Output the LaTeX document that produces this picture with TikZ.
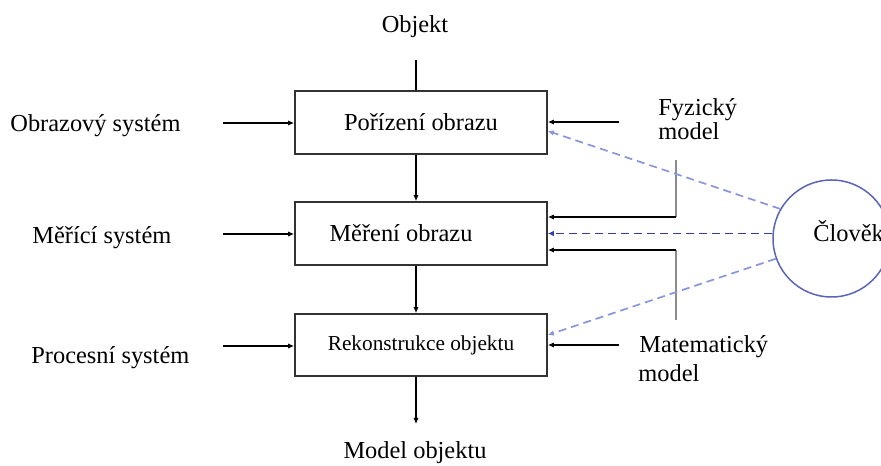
\documentclass[tikz,border=0pt]{standalone}
\usepackage{fontspec}
\setmainfont{Liberation Serif}
\usetikzlibrary{arrows.meta}
\definecolor{dashlight}{HTML}{8A96DC}
\definecolor{dashdark}{HTML}{2E3FA8}
\definecolor{circ}{HTML}{5A64B8}
\begin{document}
\begin{tikzpicture}[x=0.5bp,y=-0.5bp,
  box/.style={draw=black!80, line width=0.8bp, minimum width=126bp, minimum height=31.5bp, inner sep=0, font=\fontsize{12.2bp}{14bp}\selectfont},
  lbl/.style={font=\fontsize{12.2bp}{14bp}\selectfont, inner sep=0},
  plain/.style={draw=black, line width=0.6bp},
  arr/.style={draw=black, line width=0.6bp, -{Latex[length=3bp,width=2.6bp]}},
  grayline/.style={draw=black!45, line width=1.1bp},
  dlight/.style={draw=dashlight, line width=0.85bp, dash pattern=on 4bp off 2.5bp, -{Latex[length=3bp,width=2.8bp]}},
  ddark/.style={draw=dashdark, line width=0.9bp, dash pattern=on 4bp off 2.5bp, -{Latex[length=3bp,width=2.8bp]}}
]
\useasboundingbox (0,0) rectangle (881,466);

% boxes
\node[box] (b1) at (421,122.5) {Pořízení obrazu};
\node[box] (b2) at (421,233.5) {Měření obrazu\hspace*{20bp}};
\node[box, font=\fontsize{10.65bp}{12bp}\selectfont, minimum height=31bp] (b3) at (421,345) {Rekonstrukce objektu};

% labels
\node[lbl, anchor=base] (obj) at (415,33) {Objekt};
\node[lbl, anchor=base] (mobj) at (415,459) {Model objektu};
\node[lbl, anchor=base west] (os) at (10,132) {Obrazový systém};
\node[lbl, anchor=base west] (ms) at (32,244) {Měřící systém};
\node[lbl, anchor=base west] (ps) at (31,364) {Procesní systém};
\node[lbl, anchor=base west] (fy1) at (658,116) {Fyzický};
\node[lbl, anchor=base west] (fy2) at (658,140) {model};
\node[lbl, anchor=base west] (ma1) at (639,353) {Matematický};
\node[lbl, anchor=base west] (ma2) at (638,382) {model};

% circle
\node[draw=circ, circle, line width=0.75bp, minimum size=58.5bp, inner sep=0] (C) at (831.5,238.5) {};
\node[lbl, anchor=base west] (clo) at (813,242) {Člověk};

% vertical flow
\coordinate (objend) at (416,60);
\draw[plain] (objend) -- (objend |- b1.north);
\draw[arr] (b1.south -| objend) -- (b2.north -| objend);
\draw[arr] (b2.south -| objend) -- (b3.north -| objend);
\coordinate (outend) at (416,424);
\draw[arr] (b3.south -| objend) -- (outend);

% left inputs
\coordinate (l1) at (223,123);
\coordinate (l2) at (223,234);
\coordinate (l3) at (223,346);
\draw[arr] (l1) -- (l1 -| b1.west);
\draw[arr] (l2) -- (l2 -| b2.west);
\draw[arr] (l3) -- (l3 -| b3.west);

% right inputs
\coordinate (r1) at (619,122);
\coordinate (r3) at (619,345);
\draw[arr] (r1) -- (r1 -| b1.east);
\draw[arr] (r3) -- (r3 -| b3.east);

\coordinate (g1t) at (676,160);
\coordinate (g1b) at (676,217);
\coordinate (g2t) at (676,250);
\coordinate (g2b) at (676,320);
\draw[grayline] (g1t) -- (g1b);
\draw[grayline] (g2t) -- (g2b);
\draw[arr] (g1b) -- (g1b -| b2.east);
\draw[arr] (g2t) -- (g2t -| b2.east);

% dashed from human
\coordinate (d1) at ([yshift=-4.25bp]b1.east);
\coordinate (d3) at ([yshift=5bp]b3.east);
\draw[dlight] (C.150) -- (d1);
\draw[ddark] (C.west |- b2.east) -- (b2.east);
\draw[dlight] (C.200) -- (d3);
\end{tikzpicture}
\end{document}
